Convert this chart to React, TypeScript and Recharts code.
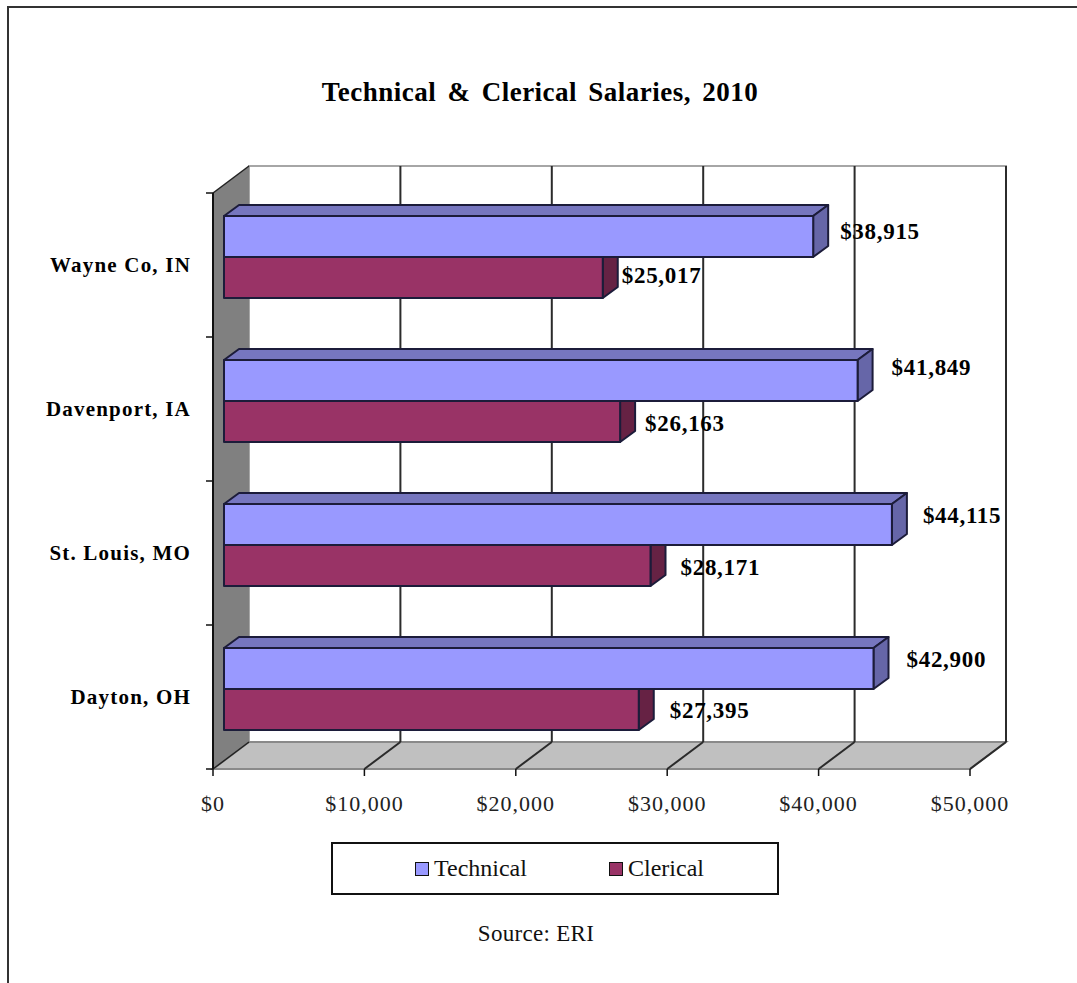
import { BarChart, Bar, XAxis, YAxis, Legend, LabelList } from 'recharts';

const cities = ['Wayne Co, IN', 'Davenport, IA', 'St. Louis, MO', 'Dayton, OH'];
const technical = [38915, 41849, 44115, 42900];
const clerical = [25017, 26163, 28171, 27395];
const salaryTicks = [0, 10000, 20000, 30000, 40000, 50000];

const rows = cities.map((city, i) => ({
  city,
  Technical: technical[i],
  Clerical: clerical[i],
}));

const WIDTH = 1077;
const HEIGHT = 983;
const FONT = '"Liberation Serif", serif';

// plot rectangle (the front plane of the fake 3D box)
const LEFT = 213;
const RIGHT = 970;
const TOP = 193;
const BOTTOM = 769;
// how far the back wall sits behind the front plane
const WALL_DX = 36;
const WALL_DY = 27;
// bars float between front and back, and have their own depth
const BAR_SHIFT_X = 11;
const BAR_SHIFT_Y = -8;
const BAR_DX = 15;
const BAR_DY = 11;

// hand placed like the original's dragged data labels: [x after bar end, y from bar middle]
const technicalNudge = [
  [27, -5],
  [34, -13],
  [31, -9],
  [33, -9],
];
const clericalNudge = [
  [19, -2],
  [25, 2],
  [30, 2],
  [31, 1],
];

const salaryX = (v: number) => LEFT + (v / 50000) * (RIGHT - LEFT);
const money = (v: number) => '$' + v.toLocaleString('en-US');

function BoxFrame() {
  const rowH = (BOTTOM - TOP) / cities.length;
  const rowEdges = cities.map((_, i) => TOP + i * rowH).concat(BOTTOM);
  return (
    <g>
      <rect
        x={LEFT + WALL_DX}
        y={TOP - WALL_DY}
        width={RIGHT - LEFT}
        height={BOTTOM - TOP}
        fill="#fff"
        stroke="#a6a6a6"
        strokeWidth={2}
      />
      <polygon
        points={`${LEFT},${BOTTOM} ${RIGHT},${BOTTOM} ${RIGHT + WALL_DX},${BOTTOM - WALL_DY} ${LEFT + WALL_DX},${BOTTOM - WALL_DY}`}
        fill="#c0c0c0"
        stroke="#8a8a8a"
        strokeWidth={2}
      />
      <polygon
        points={`${LEFT},${TOP} ${LEFT + WALL_DX},${TOP - WALL_DY} ${LEFT + WALL_DX},${BOTTOM - WALL_DY} ${LEFT},${BOTTOM}`}
        fill="#808080"
      />
      <line
        x1={LEFT}
        y1={TOP}
        x2={LEFT + WALL_DX}
        y2={TOP - WALL_DY}
        stroke="#222"
        strokeWidth={1.5}
      />
      <line
        x1={LEFT}
        y1={BOTTOM}
        x2={LEFT + WALL_DX}
        y2={BOTTOM - WALL_DY}
        stroke="#222"
        strokeWidth={1.5}
      />
      {salaryTicks.slice(1).map((v) => {
        const x = salaryX(v);
        return (
          <g key={v} stroke="#2b2b2b" strokeWidth={2} fill="none">
            <line x1={x + WALL_DX} y1={TOP - WALL_DY} x2={x + WALL_DX} y2={BOTTOM - WALL_DY} />
            <line x1={x} y1={BOTTOM} x2={x + WALL_DX} y2={BOTTOM - WALL_DY} />
          </g>
        );
      })}
      {rowEdges.map((y) => (
        <line key={y} x1={LEFT - 7} y1={y} x2={LEFT} y2={y} stroke="#111" strokeWidth={1.5} />
      ))}
      <text
        x={540}
        y={101}
        textAnchor="middle"
        fontFamily={FONT}
        fontWeight="bold"
        fontSize={27}
        letterSpacing={0.5}
        wordSpacing={4}
        fill="#000"
      >
        Technical &amp; Clerical Salaries, 2010
      </text>
      <text x={536} y={941} textAnchor="middle" fontFamily={FONT} fontSize={23} letterSpacing={0.3} fill="#111">
        Source: ERI
      </text>
    </g>
  );
}

function Box3D(props: any) {
  const { x, y, width, height, fill, sideFill, topFill } = props;
  const fx = x + BAR_SHIFT_X;
  const fy = y + BAR_SHIFT_Y;
  const ex = fx + width;
  const line = { stroke: '#1c1c3a', strokeWidth: 2, strokeLinejoin: 'round' as const };
  return (
    <g>
      {topFill ? (
        <polygon
          points={`${fx},${fy} ${fx + BAR_DX},${fy - BAR_DY} ${ex + BAR_DX},${fy - BAR_DY} ${ex},${fy}`}
          fill={topFill}
          {...line}
        />
      ) : null}
      <polygon
        points={
          topFill
            ? `${ex},${fy} ${ex + BAR_DX},${fy - BAR_DY} ${ex + BAR_DX},${fy + height - BAR_DY} ${ex},${fy + height}`
            : `${ex},${fy} ${ex + BAR_DX},${fy} ${ex + BAR_DX},${fy + height - BAR_DY} ${ex},${fy + height}`
        }
        fill={sideFill}
        {...line}
      />
      <rect x={fx} y={fy} width={width} height={height} fill={fill} {...line} />
    </g>
  );
}

function ValueLabel(props: any, nudge: number[][]) {
  const { x, y, width, height, value, index } = props;
  const [nx, ny] = nudge[index];
  return (
    <text
      x={x + BAR_SHIFT_X + width + nx}
      y={y + BAR_SHIFT_Y + height / 2 + ny}
      dominantBaseline="central"
      fontFamily={FONT}
      fontWeight="bold"
      fontSize={23}
      letterSpacing={0.7}
      fill="#000"
    >
      {money(value)}
    </text>
  );
}

function SalaryLegend({ payload }: any) {
  return (
    <div
      style={{
        boxSizing: 'border-box',
        width: 448,
        height: 53,
        border: '2px solid #111',
        background: '#fff',
        display: 'flex',
        alignItems: 'center',
        fontFamily: FONT,
        fontSize: 24,
        color: '#111',
        paddingLeft: 82,
      }}
    >
      {(payload || []).map((item: any, i: number) => (
        <span
          key={item.value}
          style={{ display: 'flex', alignItems: 'center', width: i === 0 ? 194 : 'auto' }}
        >
          <span
            style={{
              boxSizing: 'border-box',
              width: 14,
              height: 14,
              marginRight: 5,
              background: item.color,
              border: '1.5px solid #111',
            }}
          />
          {item.value}
        </span>
      ))}
    </div>
  );
}

export default function App() {
  return (
    <div style={{ position: 'absolute', left: 0, top: 0, width: WIDTH, height: HEIGHT, overflow: 'hidden', background: '#fff' }}>
      <div
        style={{
          position: 'absolute',
          left: 7,
          top: 6,
          width: WIDTH,
          height: HEIGHT,
          borderLeft: '2px solid #333',
          borderTop: '2px solid #333',
        }}
      />
      <BarChart
        width={WIDTH}
        height={HEIGHT}
        data={rows}
        layout="vertical"
        barSize={41}
        barGap={0}
        margin={{ top: TOP, right: WIDTH - RIGHT, bottom: 164, left: 0 }}
        style={{ position: 'absolute', left: 0, top: 0 }}
      >
        <BoxFrame />
        <XAxis
          type="number"
          domain={[0, 50000]}
          ticks={salaryTicks}
          tickFormatter={money}
          height={50}
          tickSize={7}
          tickMargin={19}
          interval={0}
          axisLine={false}
          tickLine={{ stroke: '#111', strokeWidth: 1.5 }}
          tick={{ fill: '#222', fontSize: 22, fontFamily: FONT, letterSpacing: 1 }}
        />
        <YAxis
          type="category"
          dataKey="city"
          width={LEFT}
          tickLine={false}
          tickMargin={16}
          axisLine={{ stroke: '#111', strokeWidth: 2 }}
          tick={{ fill: '#000', fontSize: 21, fontFamily: FONT, fontWeight: 'bold', letterSpacing: 1.2 }}
        />
        <Legend
          layout="horizontal"
          verticalAlign="middle"
          itemSorter={null}
          content={<SalaryLegend />}
          wrapperStyle={{ left: 331, top: 842, width: 448, height: 53 }}
        />
        <Bar
          dataKey="Technical"
          fill="#9999ff"
          isAnimationActive={false}
          shape={(p: any) => <Box3D {...p} sideFill="#6666a8" topFill="#7676bf" />}
        >
          <LabelList content={(p: any) => ValueLabel(p, technicalNudge)} />
        </Bar>
        <Bar
          dataKey="Clerical"
          fill="#993366"
          isAnimationActive={false}
          shape={(p: any) => <Box3D {...p} sideFill="#662244" />}
        >
          <LabelList content={(p: any) => ValueLabel(p, clericalNudge)} />
        </Bar>
      </BarChart>
    </div>
  );
}
